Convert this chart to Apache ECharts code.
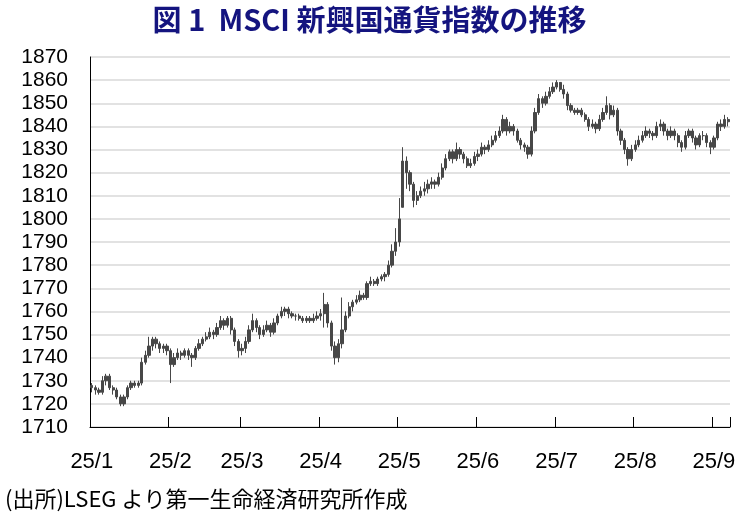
<!DOCTYPE html>
<html>
<head>
<meta charset="utf-8">
<script src="https://cdn.jsdelivr.net/npm/echarts@6/dist/echarts.min.js"></script>
<style>
  html, body { margin: 0; padding: 0; background: #fff; }
  #chart { width: 739px; height: 514px; }
</style>
</head>
<body>
<div id="chart"></div>
<script>
// Month labels and number of trading days in each month (as drawn)
const monthLabels = ['25/1', '25/2', '25/3', '25/4', '25/5', '25/6', '25/7', '25/8', '25/9'];
const monthDays = [22, 20, 22, 22, 22, 22, 22, 22, 5];

// Daily values [open, close, low, high]
const janData = [
  [1728,1727,1725,1729],[1727,1726,1724,1728],[1726,1725,1724,1727],[1725,1730,1724,1732],
  [1730,1732,1728,1733],[1732,1727,1726,1733],[1727,1726,1724,1728],[1726,1723,1722,1727],
  [1723,1720,1719,1724],[1720,1723,1719,1724],[1723,1727,1722,1728],[1727,1729,1726,1730],
  [1729,1728,1727,1730],[1728,1729,1727,1730],[1729,1738,1728,1740],[1738,1741,1737,1743],
  [1741,1745,1740,1749],[1745,1748,1743,1749],[1748,1746,1744,1749],[1746,1744,1742,1747],
  [1744,1745,1742,1746],[1745,1743,1741,1746]
];
const febData = [
  [1743,1737,1729,1744],[1737,1740,1736,1742],[1740,1742,1739,1744],[1742,1741,1739,1743],
  [1741,1743,1740,1744],[1743,1741,1739,1744],[1741,1740,1736,1742],[1740,1744,1739,1745],
  [1744,1746,1743,1748],[1746,1748,1745,1749],[1748,1749,1747,1751],[1749,1751,1748,1753],
  [1751,1750,1748,1752],[1750,1753,1749,1755],[1753,1756,1752,1758],[1756,1754,1752,1757],
  [1754,1757,1753,1758],[1757,1752,1750,1758],[1752,1747,1745,1753],[1747,1743,1740,1748]
];
const marData = [
  [1743,1744,1741,1746],[1744,1747,1742,1749],[1747,1752,1746,1754],[1752,1756,1751,1759],
  [1756,1753,1751,1757],[1753,1750,1748,1754],[1750,1752,1749,1754],[1752,1754,1751,1756],
  [1754,1751,1749,1755],[1751,1755,1750,1757],[1755,1758,1754,1759],[1758,1760,1757,1762],
  [1760,1761,1758,1762],[1761,1759,1757,1762],[1759,1758,1757,1760],[1758,1758,1756,1759],
  [1758,1757,1756,1759],[1757,1756,1755,1758],[1756,1757,1755,1758],[1757,1756,1755,1758],
  [1756,1757,1755,1759],[1757,1758,1756,1760]
];
const aprData = [
  [1758,1759,1756,1761],[1759,1763,1753,1768],[1763,1755,1753,1764],[1755,1745,1743,1756],
  [1745,1740,1737,1747],[1740,1746,1738,1748],[1746,1752,1744,1766],[1752,1758,1751,1760],
  [1758,1762,1757,1764],[1762,1764,1760,1765],[1764,1765,1763,1767],[1765,1767,1764,1769],
  [1767,1766,1765,1768],[1766,1772,1765,1773],[1772,1773,1771,1775],[1773,1772,1771,1774],
  [1772,1774,1771,1775],[1774,1775,1773,1776],[1775,1776,1773,1777],[1776,1780,1775,1782],
  [1780,1786,1779,1789],[1786,1790,1784,1796]
];
const mayData = [
  [1790,1800,1788,1809],[1805,1825,1805,1831],[1825,1820,1813,1827],[1820,1815,1812,1821],
  [1815,1808,1805,1816],[1808,1810,1806,1812],[1810,1812,1809,1814],[1812,1813,1810,1816],
  [1813,1815,1811,1817],[1815,1816,1813,1818],[1816,1815,1813,1817],[1815,1818,1814,1820],
  [1818,1822,1817,1824],[1822,1826,1821,1828],[1826,1829,1825,1830],[1829,1826,1824,1830],
  [1826,1830,1825,1833],[1830,1828,1826,1831],[1828,1826,1824,1829],[1826,1823,1822,1827],
  [1823,1824,1822,1826],[1824,1827,1823,1829]
];
const junData = [
  [1827,1828,1825,1830],[1828,1831,1827,1833],[1831,1830,1828,1832],[1830,1832,1829,1834],
  [1832,1834,1831,1836],[1834,1836,1833,1838],[1836,1838,1835,1840],[1838,1843,1837,1845],
  [1843,1838,1836,1844],[1838,1840,1837,1842],[1840,1838,1836,1841],[1838,1834,1833,1839],
  [1834,1832,1830,1835],[1832,1831,1829,1833],[1831,1828,1826,1832],[1828,1838,1827,1840],
  [1838,1846,1837,1848],[1846,1852,1845,1854],[1852,1850,1848,1853],[1850,1853,1849,1855],
  [1853,1855,1852,1857],[1855,1857,1854,1859]
];
const julData = [
  [1857,1859,1856,1860],[1859,1856,1855,1858],[1856,1854,1852,1858],[1854,1849,1847,1855],
  [1849,1847,1846,1850],[1847,1846,1845,1848],[1846,1847,1845,1848],[1847,1845,1844,1848],
  [1845,1843,1842,1846],[1843,1840,1838,1844],[1840,1841,1839,1843],[1841,1839,1837,1842],
  [1839,1843,1838,1845],[1843,1846,1842,1848],[1846,1849,1845,1853],[1849,1845,1843,1850],
  [1845,1847,1844,1849],[1847,1838,1836,1848],[1838,1834,1832,1839],[1834,1830,1828,1835],
  [1830,1826,1823,1831],[1826,1830,1825,1832]
];
const augData = [
  [1830,1832,1829,1834],[1832,1834,1831,1836],[1834,1836,1833,1838],[1836,1838,1835,1840],
  [1838,1837,1835,1839],[1837,1836,1834,1838],[1836,1840,1835,1842],[1840,1841,1838,1843],
  [1841,1838,1836,1842],[1838,1836,1834,1839],[1836,1838,1835,1840],[1838,1836,1834,1839],
  [1836,1833,1831,1837],[1833,1831,1829,1834],[1831,1836,1830,1838],[1836,1838,1835,1839],
  [1838,1835,1833,1839],[1835,1832,1830,1836],[1832,1836,1831,1837],[1836,1836,1834,1838],
  [1836,1833,1831,1837],[1833,1831,1828,1834]
];
const sepData = [
  [1831,1835,1830,1836],[1835,1841,1834,1842],[1841,1840,1838,1843],[1840,1843,1839,1845],
  [1843,1842,1840,1844]
];

const yMin = 1710, yMax = 1870, yStep = 10;

// Build category list: one entry per trading day, month label on first day
const monthData = [janData, febData, marData, aprData, mayData, junData, julData, augData, sepData];
const categories = [];
const firstIdx = new Set();
const seriesData = [];
monthData.forEach((arr, m) => {
  firstIdx.add(categories.length);
  arr.forEach((row, k) => {
    categories.push(monthLabels[m] + '-' + (k + 1));
    seriesData.push(row);
  });
});

const chart = echarts.init(document.getElementById('chart'));
const numFont = '"Liberation Sans", Arial, sans-serif';
chart.setOption({
  animation: false,
  backgroundColor: '#ffffff',
  title: [{
    text: '図 1  MSCI 新興国通貨指数の推移',
    left: 'center',
    top: 0,
    textStyle: {
      fontFamily: '"Noto Sans CJK JP", sans-serif',
      fontWeight: 'bold',
      fontSize: 29,
      color: '#14147f'
    }
  }, {
    text: '(出所)LSEG より第一生命経済研究所作成',
    left: 0,
    top: 483,
    textStyle: {
      fontFamily: '"Noto Sans CJK JP", sans-serif',
      fontWeight: 'normal',
      fontSize: 22,
      color: '#000000'
    }
  }],
  grid: { left: 90, right: 9, top: 57, bottom: 87 },
  xAxis: {
    type: 'category',
    data: categories,
    boundaryGap: true,
    axisLine: { show: true, lineStyle: { color: '#000', width: 1 } },
    axisTick: {
      show: true,
      inside: true,
      length: 10,
      interval: (i) => firstIdx.has(i),
      lineStyle: { color: '#000', width: 1 }
    },
    axisLabel: {
      interval: (i) => firstIdx.has(i),
      formatter: (v) => v.split('-')[0],
      margin: 24,
      fontFamily: numFont,
      fontSize: 22,
      color: '#000'
    },
    splitLine: { show: false }
  },
  yAxis: {
    type: 'value',
    min: yMin,
    max: yMax,
    interval: yStep,
    axisLine: { show: true, lineStyle: { color: '#000', width: 1 } },
    axisTick: { show: false },
    axisLabel: {
      margin: 22,
      formatter: (v) => String(v),
      fontFamily: numFont,
      fontSize: 21,
      color: '#000'
    },
    splitLine: { show: true, lineStyle: { color: '#d9d9d9', width: 1.5 } }
  },
  series: [{
    type: 'candlestick',
    data: seriesData,
    barWidth: 2.8,
    itemStyle: {
      color: '#474747',
      color0: '#474747',
      borderColor: '#474747',
      borderColor0: '#474747',
      borderWidth: 1
    }
  }]
});
</script>
</body>
</html>
